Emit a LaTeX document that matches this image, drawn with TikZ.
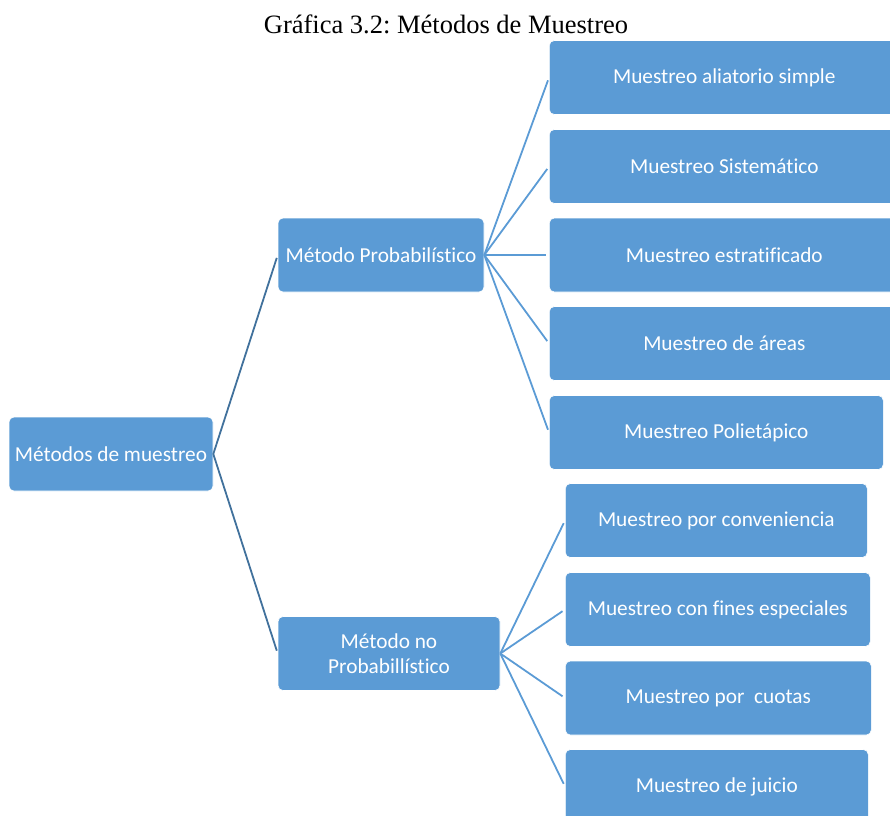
\documentclass[tikz,border=0pt]{standalone}
\usepackage{fontspec}
\setmainfont{Liberation Serif}
\newfontfamily\boxfont[Ligatures=NoCommon]{Carlito}
\usetikzlibrary{positioning}
\frenchspacing
\definecolor{boxblue}{HTML}{5B9BD5}
\definecolor{linkdark}{HTML}{41719C}
\tikzset{
  x=1pt, y=-1pt,
  box/.style={rectangle, rounded corners=5pt, fill=boxblue, draw=white, line width=0.6pt,
    text=white, align=center, minimum height=74pt, inner sep=2pt,
    font=\boxfont\fontsize{21.3}{25}\selectfont},
  conn/.style={draw=linkdark, line width=1.8pt, shorten >=3pt},
  subconn/.style={draw=boxblue, line width=1.8pt, shorten >=3pt},
}

\begin{document}
\begin{tikzpicture}
      \clip (0,0) rectangle (890,815);
      \node[font=\fontsize{26.5}{30}\selectfont] (title) at (446,24) {Gráfica 3.2: Métodos de Muestreo};

      \node[box,minimum width=204pt] (root)   at (111,454)   {Métodos de muestreo};
      \node[box,minimum width=206pt] (prob)   at (381,255)   {Método Probabilístico};
      \node[box,minimum width=222pt] (noprob) at (389,653.5) {Método no\\Probabillístico};

      % ramas del metodo probabilistico
      \node[box,anchor=west,minimum width=350pt] (p1) at (549,77.5)  {Muestreo aliatorio simple};
      \node[box,anchor=west,minimum width=350pt] (p2) at (549,166.5) {Muestreo Sistemático};
      \node[box,anchor=west,minimum width=350pt] (p3) at (549,255)   {Muestreo estratificado};
      \node[box,anchor=west,minimum width=350pt] (p4) at (549,343.5) {Muestreo de áreas};
      \node[box,anchor=west,minimum width=334pt] (p5) at (549,432.5) {Muestreo Polietápico};

      % ramas del metodo no probabilistico
      \node[box,anchor=west,minimum width=302pt] (n1) at (565,520.5) {Muestreo por conveniencia};
      \node[box,anchor=west,minimum width=305pt] (n2) at (565,609.5) {Muestreo con fines especiales};
      \node[box,anchor=west,minimum width=306pt] (n3) at (565,698)   {Muestreo por\ \ cuotas};
      \node[box,anchor=west,minimum width=303pt] (n4) at (565,786.5) {Muestreo de juicio};

      \draw (root.east) edge[conn] (prob.west)
            (root.east) edge[conn] (noprob.west);
      \draw (prob.east) edge[subconn] (p1.west)
            (prob.east) edge[subconn] (p2.west)
            (prob.east) edge[subconn] (p3.west)
            (prob.east) edge[subconn] (p4.west)
            (prob.east) edge[subconn] (p5.west);
      \draw (noprob.east) edge[subconn] (n1.west)
            (noprob.east) edge[subconn] (n2.west)
            (noprob.east) edge[subconn] (n3.west)
            (noprob.east) edge[subconn] (n4.west);
\end{tikzpicture}
\end{document}
